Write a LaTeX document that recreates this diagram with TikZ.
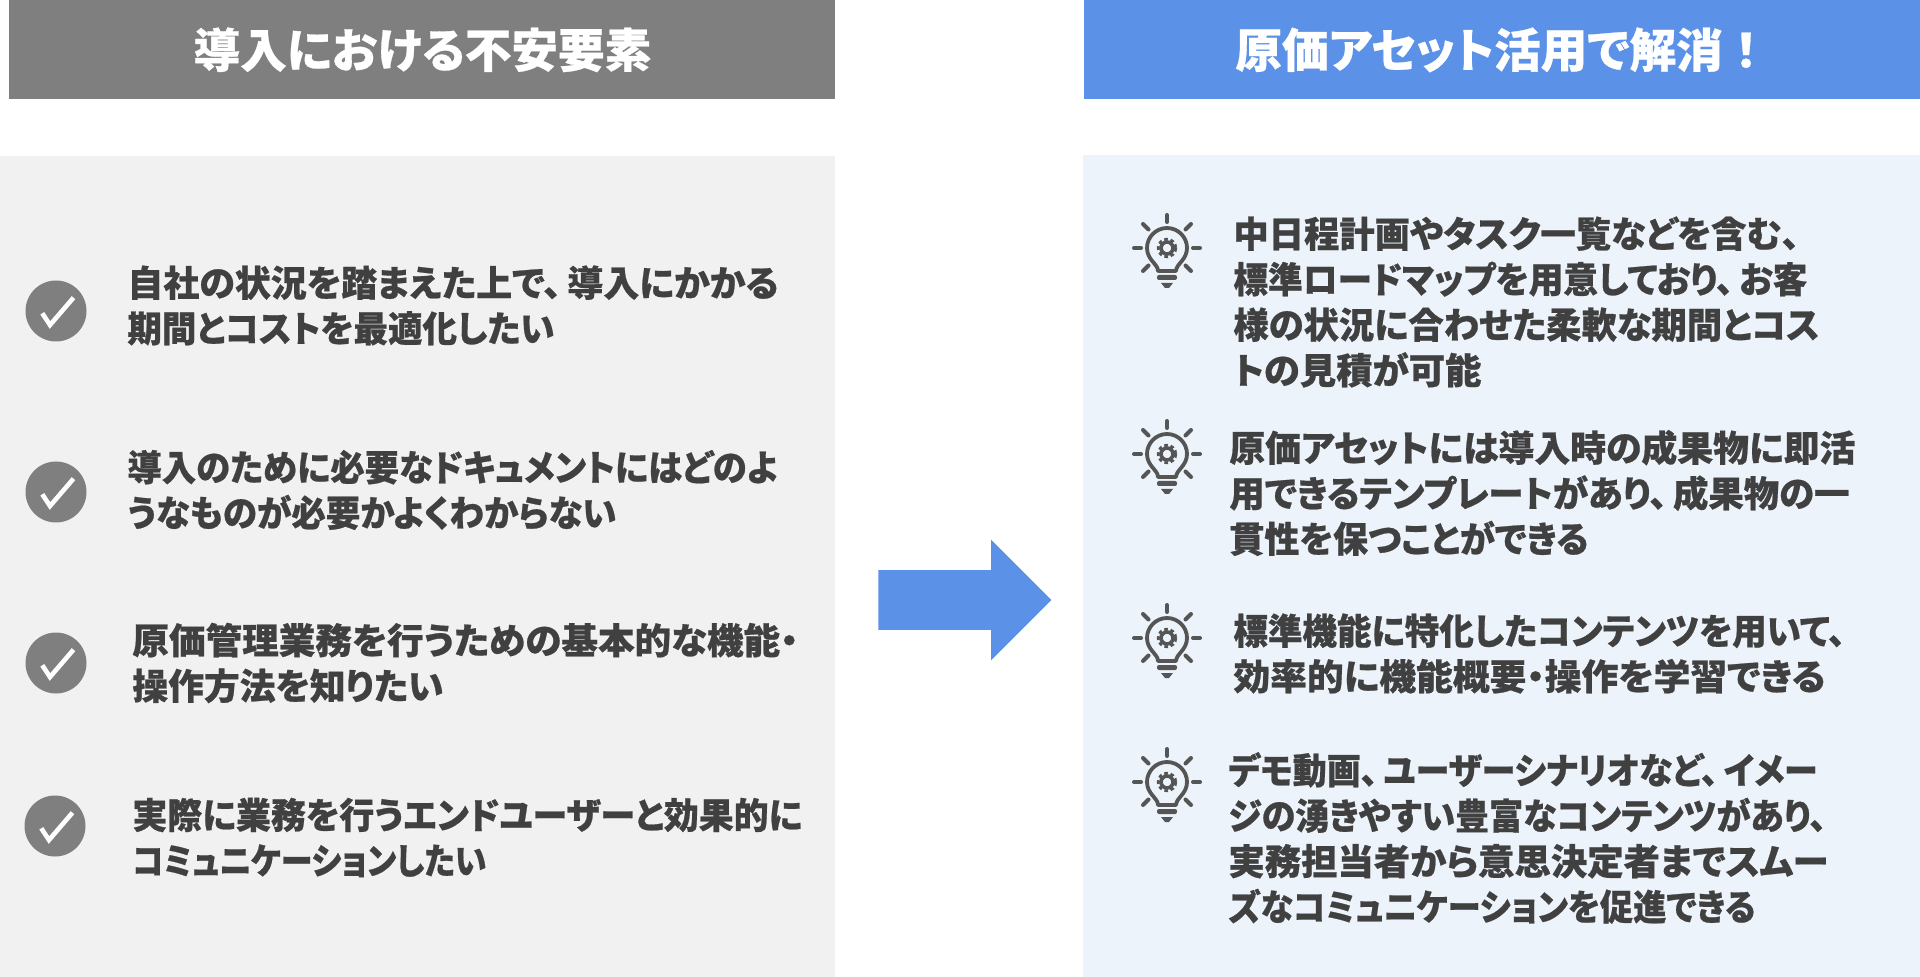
\documentclass[tikz,border=0pt]{standalone}
\usepackage{fontspec}
\usepackage{xcolor}
\usepackage{tikz}
\usetikzlibrary{shapes.arrows}
\newfontfamily\jpfont{Noto Sans CJK JP}[RawFeature={+palt}, BoldFeatures={FakeBold=0.6}]
\definecolor{headgray}{HTML}{7F7F7F}
\definecolor{headblue}{HTML}{5B91E6}
\definecolor{panelgray}{HTML}{F1F1F1}
\definecolor{panelblue}{HTML}{ECF3FA}
\definecolor{bodytext}{HTML}{404040}
\definecolor{iconline}{HTML}{555555}
% one line of text, brought to a given width in px
\newcommand{\fitline}[2]{\resizebox{\dimexpr#1pt/2\relax}{\height}{#2}}
\newcommand{\wcomma}{、\kern3pt}
\tikzset{
  headbox/.style={rectangle, anchor=north west, inner sep=0pt, text=white, minimum height=49.5pt, font=\jpfont\bfseries\fontsize{23.3}{28}\selectfont},
  panelbox/.style={rectangle, anchor=north west, inner sep=0pt},
  itemtext/.style={anchor=west, inner sep=0pt, align=left, text=bodytext, font=\jpfont\bfseries\fontsize{18}{22.75}\selectfont},
  checkdot/.style={circle, fill=headgray, inner sep=0pt, minimum size=30.5pt, path picture={
    \draw[white, line width=2.3pt] (path picture bounding box.center) ++(-13.7,2.3) -- ++(7.7,11.7) -- ++(23.5,-27.3);}},
  bulb/.pic={
    \draw[iconline, line width=1.9pt, line join=round] (-9,23) -- (9,23) .. controls (9,16) and (20,12) .. (20,0) .. controls (20,-11) and (11,-20) .. (0,-20) .. controls (-11,-20) and (-20,-11) .. (-20,0) .. controls (-20,12) and (-9,16) .. (-9,23) -- cycle;
    \draw[iconline, line width=2pt, line cap=round] (0,-33) -- (0,-26);
    \draw[iconline, line width=2pt, line cap=round] (-24,-24) -- (-18.5,-18.5);
    \draw[iconline, line width=2pt, line cap=round] (24,-24) -- (18.5,-18.5);
    \draw[iconline, line width=2pt, line cap=round] (-33,0) -- (-26,0);
    \draw[iconline, line width=2pt, line cap=round] (33,0) -- (26,0);
    \draw[iconline, line width=2pt, line cap=round] (-24,23) -- (-18.5,17.5);
    \draw[iconline, line width=2pt, line cap=round] (24,23) -- (18.5,17.5);
    \draw[iconline, line width=1.8pt] (0,0) circle (6);
    \draw[iconline, line width=1.4pt, dash pattern=on 1.8pt off 1.4pt] (0,0) circle (8.8);
    \fill[iconline, rounded corners=1pt] (-10,27) rectangle (10,32);
    \fill[iconline] (-6,35) -- (6,35) -- (2,40) -- (-2,40) -- cycle;
  }
}
\begin{document}
\begin{tikzpicture}[x=0.5pt, y=-0.5pt]
\useasboundingbox (0,0) rectangle (1920,977);
% panels
\node[panelbox, fill=panelgray, minimum width=417.5pt, minimum height=410.5pt] (leftpanel) at (0,156) {};
\node[panelbox, fill=panelblue, minimum width=418.5pt, minimum height=411pt] (rightpanel) at (1083,155) {};
% headers
\node[headbox, fill=headgray, minimum width=413pt] (lefthead) at (9,0) {導入における不安要素};
\node[headbox, fill=headblue, minimum width=418pt] (righthead) at (1084,0) {原価アセット活用で解消{\addfontfeature{RawFeature=-palt}！}};
% arrow
\node[single arrow, anchor=tip, fill=headblue, inner xsep=0pt, inner ysep=14.75pt, minimum height=86.5pt, single arrow head extend=15.25pt, single arrow tip angle=90, single arrow head indent=0pt] (mainarrow) at (1052,600) {};
% left items
\node[checkdot] (check1) at (56,311) {};
\node[checkdot] (check2) at (56,492) {};
\node[checkdot] (check3) at (56,663) {};
\node[checkdot] (check4) at (55,826) {};
\node[itemtext] (worry1) at (127,305.5) {\fitline{651}{自社の状況を踏まえた上で\wcomma 導入にかかる}\\\fitline{427}{期間とコストを最適化したい}};
\node[itemtext] (worry2) at (127,490) {\fitline{650}{導入のために必要なドキュメントにはどのよ}\\\fitline{489}{うなものが必要かよくわからない}};
\node[itemtext] (worry3) at (132,663) {\fitline{666}{原価管理業務を行うための基本的な機能・}\\\fitline{311}{操作方法を知りたい}};
\node[itemtext] (worry4) at (132,837.5) {\fitline{670}{実際に業務を行うエンドユーザーと効果的に}\\\fitline{354}{コミュニケーションしたい}};
% right items
\pic at (1167,248) {bulb};
\pic at (1167,454) {bulb};
\pic at (1167,638) {bulb};
\pic at (1167,782) {bulb};
\node[itemtext] (answer1) at (1233,302) {\fitline{566}{中日程計画やタスク一覧などを含む、}\\\fitline{574}{標準ロードマップを用意しており\wcomma お客}\\\fitline{586}{様の状況に合わせた柔軟な期間とコス}\\\fitline{248}{トの見積が可能}};
\node[itemtext] (answer2) at (1229,493) {\fitline{626}{原価アセットには導入時の成果物に即活}\\\fitline{620}{用できるテンプレートがあり\wcomma 成果物の一}\\\fitline{359}{貫性を保つことができる}};
\node[itemtext] (answer3) at (1233,653.5) {\fitline{612}{標準機能に特化したコンテンツを用いて、}\\\fitline{592}{効率的に機能概要・操作を学習できる}};
\node[itemtext] (answer4) at (1228,838) {\fitline{589}{デモ動画\wcomma ユーザーシナリオなど\wcomma イメー}\\\fitline{598}{ジの湧きやすい豊富なコンテンツがあり、}\\\fitline{600}{実務担当者から意思決定者までスムー}\\\fitline{527}{ズなコミュニケーションを促進できる}};
\end{tikzpicture}
\end{document}
